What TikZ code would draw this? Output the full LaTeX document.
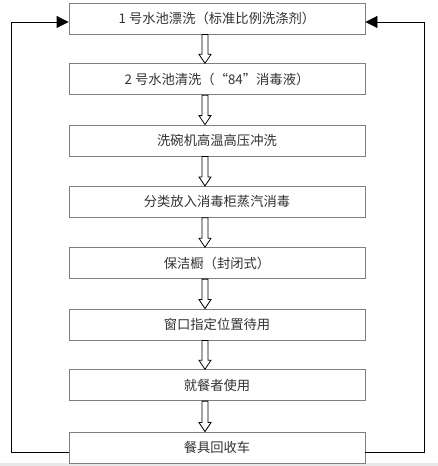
\documentclass[tikz,border=0pt]{standalone}
\usepackage{fontspec}
\newfontfamily\cjk{Noto Sans CJK SC}
\usetikzlibrary{calc,arrows.meta}
\definecolor{boxline}{HTML}{7F7F7F}
\definecolor{txt}{HTML}{333333}
\tikzset{
  stepbox/.style={draw=boxline, line width=0.9pt, fill=white, minimum width=296pt, minimum height=31pt, inner sep=0pt, text=txt, font=\cjk\fontsize{13.3}{16}\selectfont},
  blockarrow/.style={draw=black, line width=0.8pt, fill=white, line join=miter},
  loopline/.style={draw=black, line width=0.9pt, -{Triangle[length=12pt,width=12pt]}}
}
\begin{document}
\begin{tikzpicture}[x=1pt,y=1pt]
\useasboundingbox (0,0) rectangle (438,466);
\fill[white] (0,0) rectangle (438,466);
\fill[black!9] (0,0) rectangle (438,3);
% box centers: px y = 18.5 + 61.3 i  -> tikz y = 466 - py
\node[stepbox] (b1) at (217,447.5) {1 号水池漂洗（标准比例洗涤剂）};
\node[stepbox] (b2) at (217,386.7) {2 号水池清洗（“84”消毒液）};
\node[stepbox] (b3) at (217,325.4) {洗碗机高温高压冲洗};
\node[stepbox] (b4) at (217,264.1) {分类放入消毒柜蒸汽消毒};
\node[stepbox] (b5) at (217,202.8) {保洁橱（封闭式）};
\node[stepbox] (b6) at (217,141.5) {窗口指定位置待用};
\node[stepbox] (b7) at (217,80.8) {就餐者使用};
\node[stepbox] (b8) at (217,18.5) {餐具回收车};
% block arrows between steps
\foreach \a/\b in {b1/b2,b2/b3,b3/b4,b4/b5,b5/b6,b6/b7,b7/b8}{
  \draw[blockarrow]
    ($(\a.south)+(-15,0)$) -- ($(\b.north)+(-15,9)$) -- ($(\b.north)+(-18,9)$)
    -- ($(\b.north)+(-12,0)$) -- ($(\b.north)+(-6,9)$) -- ($(\b.north)+(-9,9)$)
    -- ($(\a.south)+(-9,0)$) -- cycle;
}
% feedback loops
\coordinate (lb) at ($(b8.west)+(0,-4.5)$);
\coordinate (rb) at ($(b8.east)+(0,-4.5)$);
\coordinate (lt) at ($(b1.west)+(0,-3.5)$);
\coordinate (rt) at ($(b1.east)+(0,-3.5)$);
\draw[loopline] (lb) -- (11,0 |- lb) -- (11,0 |- lt) -- (lt);
\draw[loopline] (rb) -- (424,0 |- rb) -- (424,0 |- rt) -- (rt);
\end{tikzpicture}
\end{document}
